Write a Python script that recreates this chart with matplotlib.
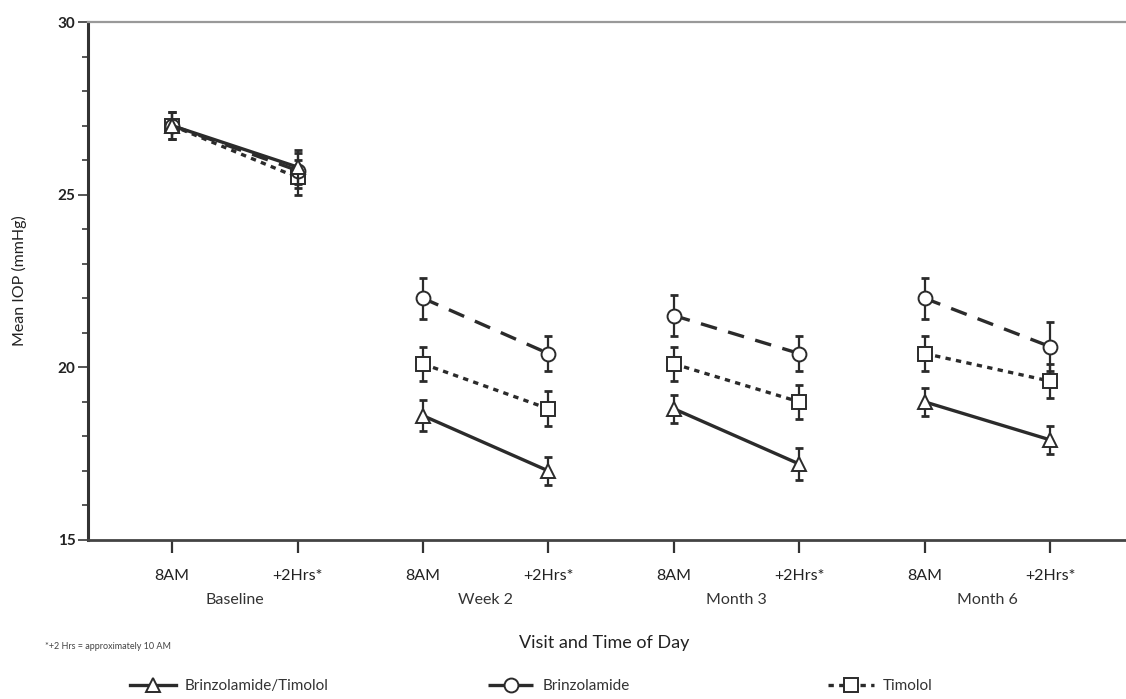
import numpy as np
import matplotlib
matplotlib.use("Agg")
import matplotlib.pyplot as plt
from matplotlib.ticker import MultipleLocator

plt.rcParams['font.family'] = ['Lato', 'DejaVu Sans']

# time points: 8AM and +2Hrs at each visit
visitas = ['Baseline', 'Week 2', 'Month 3', 'Month 6']
horas = ['8AM', '+2Hrs*']

# mean IOP (mmHg) per visit, [8AM, +2Hrs]
brinz_timolol = [[27.0, 25.8], [18.6, 17.0], [18.8, 17.2], [19.0, 17.9]]
brinzolamida = [[27.0, 25.7], [22.0, 20.4], [21.5, 20.4], [22.0, 20.6]]
timolol = [[27.0, 25.5], [20.1, 18.8], [20.1, 19.0], [20.4, 19.6]]

# error bar half widths
err_bt = [[0.4, 0.5], [0.45, 0.4], [0.4, 0.45], [0.4, 0.4]]
err_b = [[0.4, 0.5], [0.6, 0.5], [0.6, 0.5], [0.6, 0.7]]
err_t = [[0.4, 0.5], [0.5, 0.5], [0.5, 0.5], [0.5, 0.5]]

# drawn back to front so the triangles stay on top at baseline
series = [
    ('Timolol', timolol, err_t, 's', (0, (1.6, 1.6))),
    ('Brinzolamide', brinzolamida, err_b, 'o', (0, (5, 3.5))),
    ('Brinzolamide/Timolol', brinz_timolol, err_bt, '^', '-'),
]

color = '#2b2b2b'

fig = plt.figure(figsize=(11.26, 6.99), dpi=100)
ax = fig.add_axes([0.078, 0.2275, 0.925, 0.741])

handles = {}
for z, (nombre, valores, errores, marca, estilo) in enumerate(series):
    for i, (vals, errs) in enumerate(zip(valores, errores)):
        xs = [2 * i + 1, 2 * i + 2]
        ax.errorbar(xs, vals, yerr=errs, fmt='none', ecolor=color,
                    elinewidth=1.6, capsize=3, capthick=2, zorder=2 + z)
        ln, = ax.plot(xs, vals, linestyle=estilo, color=color, lw=2.4,
                      marker=marca, markersize=10, markerfacecolor='white',
                      markeredgecolor=color, markeredgewidth=1.4, zorder=3 + z)
    handles[nombre] = ln

ax.set_xlim(0.328, 8.632)
ax.set_ylim(15, 30)
ax.set_xticks(np.arange(1, 9))
ax.set_xticklabels(horas * len(visitas), fontsize=11.5, color='#222222')
ax.yaxis.set_major_locator(MultipleLocator(5))
ax.yaxis.set_minor_locator(MultipleLocator(1))
ax.set_yticks([15, 20, 25, 30])
ax.set_yticklabels(['15', '20', '25', '30'], fontsize=11, fontweight='bold', color='#222222')

ax.tick_params(axis='x', direction='out', length=9, width=1.6, color='#333333', pad=12)
ax.tick_params(axis='y', which='major', direction='out', length=7, width=1.4, color='#555555', pad=2)
ax.tick_params(axis='y', which='minor', direction='out', length=4, width=1.4, color='#555555')

ax.spines['right'].set_visible(False)
ax.spines['top'].set_color('#999999')
ax.spines['top'].set_linewidth(1.6)
ax.spines['left'].set_color('#333333')
ax.spines['left'].set_linewidth(2.2)
ax.spines['bottom'].set_color('#444444')
ax.spines['bottom'].set_linewidth(2.0)

# visit names under each pair of time points
for i, v in enumerate(visitas):
    ax.text(2 * i + 1.5, -0.115, v, transform=ax.get_xaxis_transform(),
            ha='center', va='center', fontsize=11.5, color='#333333')

ax.set_ylabel('Mean IOP (mmHg)', fontsize=11.5, color='#222222', labelpad=22)

fig.text(0.537, 0.08, 'Visit and Time of Day', ha='center', va='center',
         fontsize=13, color='#222222')
fig.text(0.04, 0.075, '*+2 Hrs = approximately 10 AM', ha='left', va='center',
         fontsize=6.5, color='#444444')

# one legend entry per column along the bottom
for nombre, x0 in [('Brinzolamide/Timolol', 0.11), ('Brinzolamide', 0.428),
                   ('Timolol', 0.73)]:
    fig.legend([handles[nombre]], [nombre], loc='center left',
               bbox_to_anchor=(x0, 0.018), frameon=False, fontsize=11,
               handlelength=3.0, handletextpad=0.6, borderaxespad=0,
               labelcolor='#333333')

fig.savefig('out.png', dpi=100)
